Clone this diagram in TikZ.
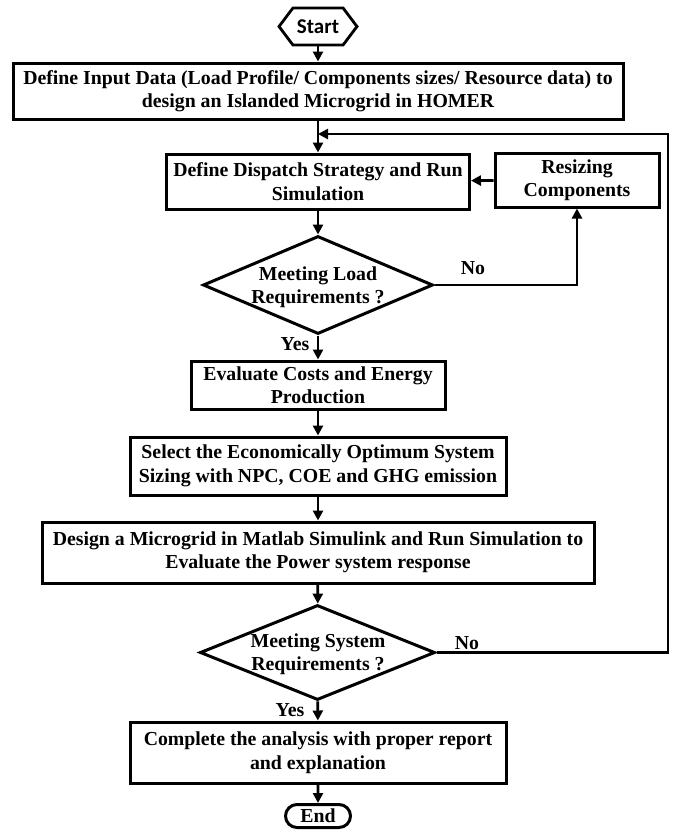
\documentclass[tikz,border=0pt]{standalone}
\usepackage{fontspec}
\setmainfont{Liberation Serif}
\newfontfamily\startfont{Carlito}
\usetikzlibrary{shapes.geometric,shapes.symbols,shapes.misc,arrows.meta}
\tikzset{
  procbox/.style={draw, line width=3pt, align=center, inner sep=2pt,
    font=\bfseries\fontsize{19.8}{23.5}\selectfont},
  decision/.style={draw, diamond, line width=3pt, inner sep=0pt},
  dectext/.style={align=center, font=\bfseries\fontsize{19.8}{23.5}\selectfont},
  answer/.style={font=\bfseries\fontsize{19.8}{21}\selectfont, inner sep=0pt},
  flow/.style={line width=2.8pt, -{Triangle[length=10pt,width=10pt]}}
}
\begin{document}
\begin{tikzpicture}[x=1pt,y=-1pt]
\useasboundingbox (0,0) rectangle (675,830);
% terminals
\node[draw, signal, signal to=west and east, signal pointer angle=106, line width=2.8pt,
  minimum width=78pt, minimum height=37pt, inner sep=0pt,
  font=\startfont\bfseries\fontsize{21}{22}\selectfont] (start) at (318,26.5) {Start};
\node[draw, rounded rectangle, line width=3pt, minimum width=65pt, minimum height=23pt,
  inner sep=0pt, font=\bfseries\fontsize{19.8}{21}\selectfont] (end) at (318,816) {End};
% process boxes
\node[procbox, minimum width=610pt, minimum height=56pt] (input) at (318,91)
  {Define Input Data (Load Profile/ Components sizes/ Resource data) to\\design an Islanded Microgrid in HOMER};
\node[procbox, minimum width=303pt, minimum height=55pt] (dispatch) at (318,181.5)
  {Define Dispatch Strategy and Run\\Simulation};
\node[procbox, minimum width=164pt, minimum height=54pt] (resize) at (577,180)
  {Resizing\\Components};
\node[procbox, minimum width=254pt, minimum height=48pt] (costs) at (318,385)
  {Evaluate Costs and Energy\\Production};
\node[procbox, minimum width=376pt, minimum height=58pt] (optimum) at (318,466)
  {Select the Economically Optimum System\\Sizing with NPC, COE and GHG emission};
\node[procbox, minimum width=552pt, minimum height=61pt] (simulink) at (318,552.5)
  {Design a Microgrid in Matlab Simulink and Run Simulation to\\Evaluate the Power system response};
\node[procbox, minimum width=376pt, minimum height=61pt] (report) at (318,752.5)
  {Complete the analysis with proper report\\and explanation};
% decisions
\node[decision, minimum width=230pt, minimum height=98pt] (loadreq) at (318,285) {};
\node[dectext] (loadtxt) at (318,287) {Meeting Load\\Requirements ?};
\node[decision, minimum width=235pt, minimum height=95pt] (sysreq) at (317.5,652.5) {};
\node[dectext] (systxt) at (318,654) {Meeting System\\Requirements ?};
% answers
\node[answer] (no1) at (473,268) {No};
\node[answer] (yes1) at (295,344) {Yes};
\node[answer] (no2) at (467,643) {No};
\node[answer] (yes2) at (290,710) {Yes};
% loop points
\coordinate (loopcorner) at (668,134);
\coordinate (join) at (318,134);
% connectors
\draw[flow] (start) -- (input);
\draw[flow] (input) -- (dispatch);
\draw[flow] (dispatch) -- (loadreq);
\draw[flow] (resize) -- (dispatch);
\draw[flow] (loadreq.east) -| (resize.south);
\draw[flow] (loadreq) -- (costs);
\draw[flow] (costs) -- (optimum);
\draw[flow] (optimum) -- (simulink);
\draw[flow] (simulink) -- (sysreq);
\draw[flow] (sysreq.east) -| (loopcorner) -- (join);
\draw[flow] (sysreq) -- (report);
\draw[flow] (report) -- (end);
\end{tikzpicture}
\end{document}
